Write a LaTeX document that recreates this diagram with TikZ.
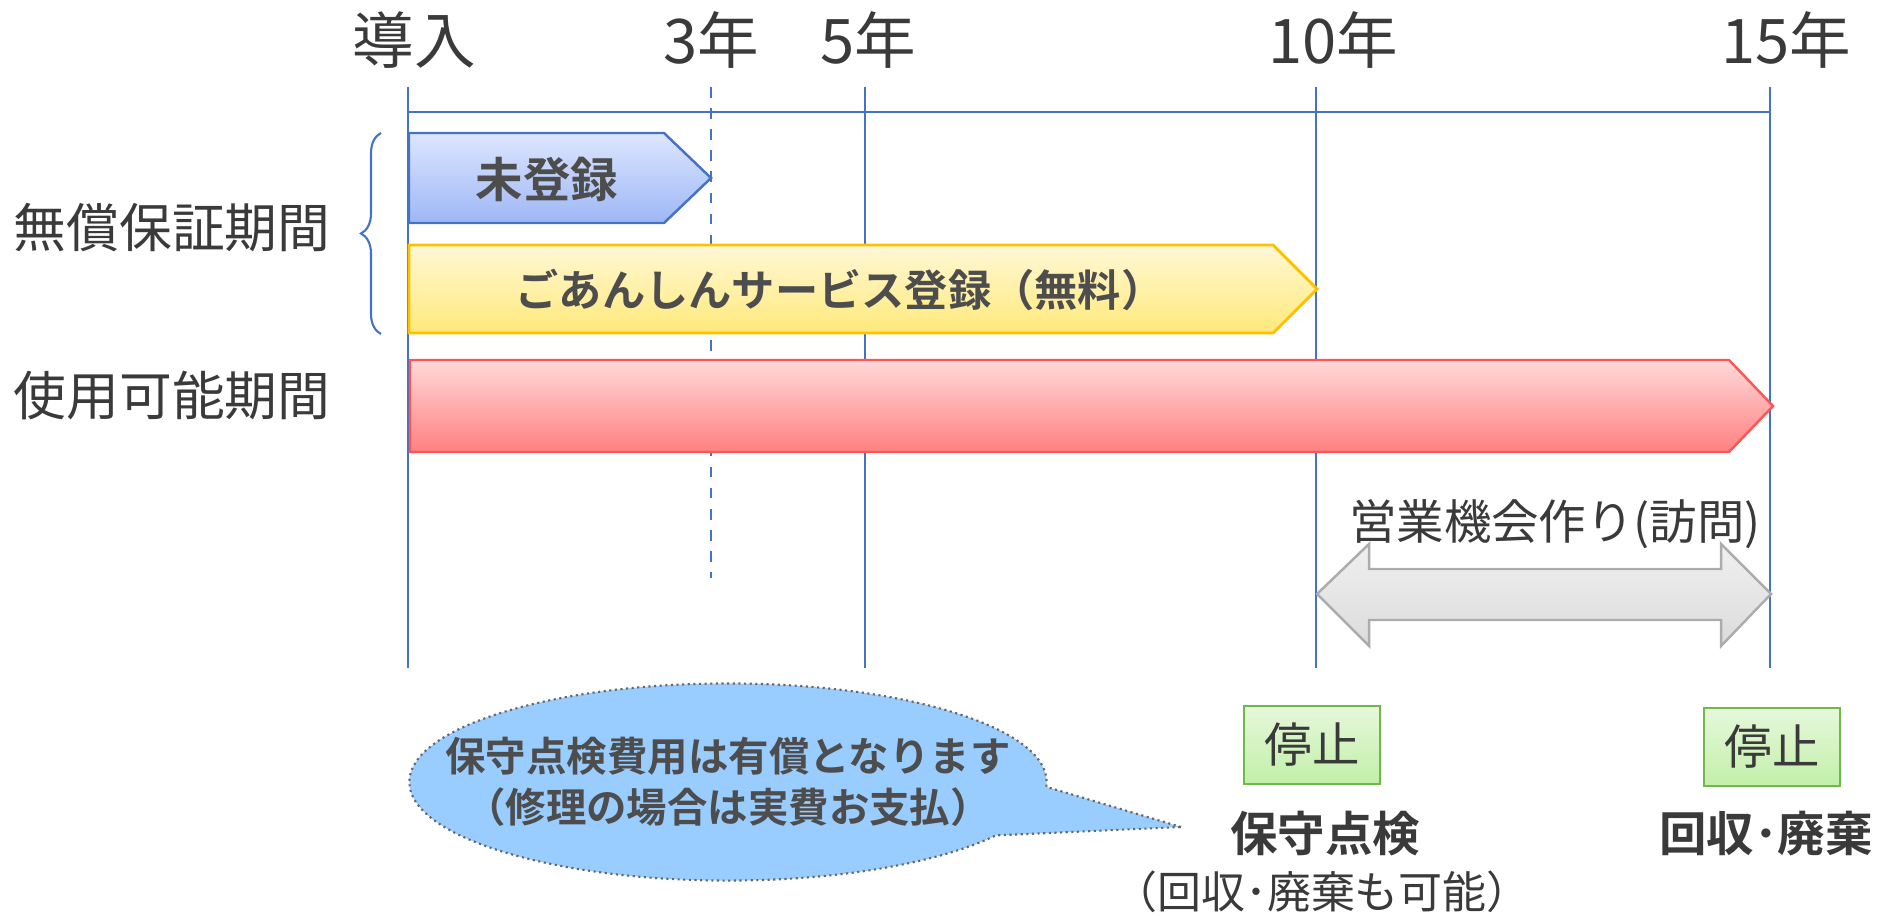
\documentclass[tikz,border=0pt]{standalone}
\usepackage{fontspec}
\setmainfont{Noto Sans CJK JP}[BoldFont={Noto Sans CJK JP Bold}]
\usetikzlibrary{shapes.callouts,decorations.pathreplacing}
\definecolor{gridblue}{HTML}{4472C4}
\definecolor{labelgray}{HTML}{3A3A3A}
\definecolor{bargray}{HTML}{4D4D4D}
\definecolor{memoblue}{HTML}{99CCFF}
\definecolor{bluetop}{HTML}{DDE6FF}
\definecolor{bluebot}{HTML}{9DB7F5}
\definecolor{yellowtop}{HTML}{FFF8D6}
\definecolor{yellowbot}{HTML}{FFE97A}
\definecolor{yellowline}{HTML}{FFC000}
\definecolor{redtop}{HTML}{FFD9D9}
\definecolor{redbot}{HTML}{FF8080}
\definecolor{redline}{HTML}{FF5555}
\definecolor{greentop}{HTML}{E6F8DC}
\definecolor{greenbot}{HTML}{C2EFA8}
\definecolor{greenline}{HTML}{70B84A}
\tikzset{
    bartext/.style={text=bargray,font=\bfseries\fontsize{13.5}{16}\selectfont},
    stopbox/.style={draw=greenline,line width=0.7pt,top color=greentop,bottom color=greenbot,
        minimum width=1.36cm,minimum height=0.78cm,inner sep=0pt,text=labelgray,font=\fontsize{13.5}{16}\selectfont}
}
\begin{document}
\begin{tikzpicture}[x=0.01cm,y=-0.01cm]
    \useasboundingbox (0,0) rectangle (1894,915);

    \begin{scope}[every node/.style={text=labelgray,font=\fontsize{17.5}{21}\selectfont}]
        \node (start) at (414,40) {導入};
        \node (y3) at (711,40) {3年};
        \node (y5) at (868,40) {5年};
        \node (y10) at (1333,40) {10年};
        \node (y15) at (1786,40) {15年};
    \end{scope}
    \begin{scope}[every path/.style={draw=gridblue,line width=0.7pt}]
        \path (408,87) -- (408,668);
        \path (865,87) -- (865,668);
        \path (1316,87) -- (1316,668);
        \path (1770,87) -- (1770,668);
        \path [dashed,line width=0.5pt] (711,87) -- (711,578);
        \path (408,112) -- (1770,112);
    \end{scope}

    \begin{scope}[every node/.style={text=labelgray,font=\fontsize{15}{18}\selectfont}]
        \node (free) at (172,228) {無償保証期間};
        \node (usable) at (172,396) {使用可能期間};
    \end{scope}
    \coordinate (bracetop) at (381,133);
    \coordinate (bracebot) at (381,334);
    \draw [gridblue,line width=0.6pt,decorate,decoration={brace,amplitude=0.2cm}] (bracebot) -- (bracetop);

    \path [draw=gridblue,line width=0.7pt,top color=bluetop,bottom color=bluebot]
        (409,133) -- (664,133) -- (711,178) -- (664,223) -- (409,223) -- cycle;
    \node [bartext] (unreg) at (547,179) {未登録};
    \path [draw=yellowline,line width=0.8pt,top color=yellowtop,bottom color=yellowbot]
        (409,245) -- (1273,245) -- (1317,289) -- (1273,333) -- (409,333) -- cycle;
    \node [bartext,font=\bfseries\fontsize{12.3}{15}\selectfont] (anshin) at (840,290) {ごあんしんサービス登録（無料）};
    \path [draw=redline,line width=0.7pt,top color=redtop,bottom color=redbot]
        (410,360) -- (1729,360) -- (1773,406) -- (1729,452) -- (410,452) -- cycle;

    \node [text=labelgray,font=\fontsize{13.5}{16}\selectfont] (visit) at (1555,524) {営業機会作り(訪問)};
    \path [draw=gray!65,line width=0.7pt,top color=gray!12,bottom color=gray!28]
        (1317,594) -- (1369,544) -- (1369,569) -- (1721,569) -- (1721,544) -- (1771,594)
        -- (1721,646) -- (1721,620) -- (1369,620) -- (1369,646) -- cycle;

    \node [stopbox] (stop1) at (1312,745) {停止};
    \node [stopbox] (stop2) at (1772,747) {停止};
    \node [text=labelgray,font=\bfseries\fontsize{13.5}{16}\selectfont] (check) at (1325,834) {保守点検};
    \node [text=labelgray,font=\fontsize{12.5}{15}\selectfont] (checknote) at (1322,892) {（回収･廃棄も可能）};
    \node [text=labelgray,font=\bfseries\fontsize{13.5}{16}\selectfont] (dispose) at (1766,834) {回収･廃棄};

    \coordinate (memotip) at (1181,827);
    \node [ellipse callout,callout absolute pointer={(memotip)},callout pointer arc=30,
        draw=gray!80!black,densely dotted,line width=0.6pt,fill=memoblue,
        minimum width=6.37cm,minimum height=1.97cm,inner sep=0pt] (memo) at (728,782) {};
    \node [bartext,align=center,font=\bfseries\fontsize{11.5}{14.5}\selectfont] (memotext) at (memo.center)
        {保守点検費用は有償となります\\（修理の場合は実費お支払）};
\end{tikzpicture}
\end{document}
